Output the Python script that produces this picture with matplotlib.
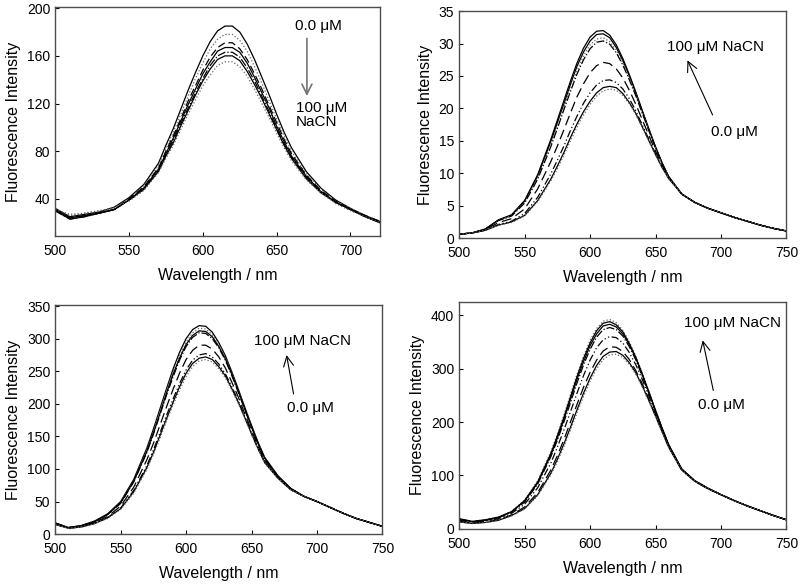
import matplotlib.pyplot as plt

plt.rcParams['font.family'] = ['Liberation Sans', 'DejaVu Sans']

# wavelength grids (nm), finer around the band maximum
wl_a = [500, 510, 520, 530, 540, 550, 560, 570, 575, 580, 585, 590, 595, 600,
        605, 610, 615, 620, 625, 630, 635, 640, 645, 650, 655, 660, 670, 680,
        690, 700, 710, 720]
wl_b = wl_a[:-3] + [700, 710, 720, 730, 740, 750]

# panel A (top left): intensity drops with NaCN (0.0 -> 100 uM)
a_curves = [
    [32, 25, 27, 29, 33, 41, 52, 70, 85, 99, 115, 131, 146, 160, 172, 181, 185, 185, 180, 170, 157, 142, 127, 111, 96, 83, 63, 49, 39, 32, 26, 21],
    [30, 26, 28, 30, 32, 40, 51, 68, 82, 96, 111, 126, 141, 154, 166, 174, 178, 178, 173, 164, 151, 137, 122, 107, 93, 80, 61, 48, 38, 32, 26, 21],
    [31, 24, 26, 28, 31, 40, 50, 66, 80, 93, 107, 122, 135, 148, 159, 167, 171, 171, 166, 157, 145, 132, 118, 104, 90, 78, 60, 47, 38, 31, 26, 21],
    [31, 24, 26, 28, 31, 39, 49, 65, 78, 91, 105, 119, 132, 145, 155, 164, 167, 167, 163, 154, 142, 129, 116, 101, 88, 76, 59, 46, 37, 31, 25, 20],
    [30, 23, 25, 28, 31, 39, 48, 64, 77, 89, 103, 116, 129, 141, 152, 160, 163, 163, 159, 150, 139, 126, 113, 99, 86, 75, 58, 46, 37, 31, 25, 20],
    [30, 23, 25, 28, 31, 39, 48, 63, 76, 87, 101, 114, 127, 139, 149, 157, 160, 160, 156, 147, 136, 124, 111, 98, 85, 74, 57, 45, 37, 31, 25, 20],
    [31, 27, 28, 30, 33, 38, 47, 62, 74, 85, 98, 111, 123, 135, 144, 152, 155, 155, 151, 143, 132, 120, 108, 95, 83, 72, 56, 45, 36, 30, 25, 20],
]
a_styles = ['-', ':', (0, (6, 3)), '-', '-.', '-', ':']

# panel B (top right): intensity rises with NaCN
b_head = [0.6, 0.8]
b_tail = [6.8, 5.5, 4.6, 3.9, 3.2, 2.6, 2.0, 1.5, 1.1]
b_mid = [
    [1.4, 2.8, 3.6, 5.8, 9.8, 15.2, 18.2, 21.2, 24.2, 27.0, 29.3, 31.0, 31.9, 32.0, 31.3, 29.8, 27.7, 25.2, 22.5, 19.6, 16.8, 14.1, 11.6, 9.5],
    [1.4, 2.8, 3.5, 5.7, 9.6, 14.9, 17.8, 20.7, 23.7, 26.5, 28.7, 30.4, 31.4, 31.5, 30.9, 29.4, 27.4, 25.0, 22.3, 19.5, 16.7, 14.0, 11.6, 9.5],
    [1.4, 2.7, 3.5, 5.5, 9.3, 14.4, 17.3, 20.2, 23.1, 25.8, 28.1, 29.8, 30.7, 30.9, 30.3, 29.0, 27.0, 24.7, 22.1, 19.3, 16.6, 13.9, 11.5, 9.5],
    [1.4, 2.7, 3.4, 5.4, 9.1, 14.1, 16.9, 19.8, 22.6, 25.3, 27.5, 29.2, 30.2, 30.4, 29.9, 28.6, 26.7, 24.4, 21.9, 19.2, 16.5, 13.9, 11.5, 9.4],
    [1.3, 2.4, 3.0, 4.5, 7.6, 11.8, 14.2, 16.7, 19.3, 21.8, 23.8, 25.5, 26.6, 27.1, 26.9, 26.1, 24.7, 22.8, 20.6, 18.2, 15.8, 13.4, 11.2, 9.3],
    [1.2, 2.1, 2.6, 3.8, 6.3, 9.9, 12.0, 14.2, 16.6, 18.8, 20.8, 22.4, 23.6, 24.3, 24.4, 24.0, 23.0, 21.5, 19.6, 17.4, 15.2, 13.0, 11.0, 9.3],
    [1.2, 2.0, 2.5, 3.5, 5.8, 9.1, 11.1, 13.2, 15.5, 17.6, 19.5, 21.1, 22.4, 23.2, 23.4, 23.2, 22.3, 20.9, 19.2, 17.1, 15.0, 12.9, 10.9, 9.2],
    [1.2, 2.0, 2.4, 3.4, 5.6, 8.8, 10.7, 12.8, 15.0, 17.1, 19.0, 20.6, 21.9, 22.7, 23.0, 22.8, 22.0, 20.7, 19.0, 17.0, 14.9, 12.8, 10.9, 9.2],
]
b_styles = ['-', '-', ':', '-.', (0, (8, 4)), (0, (6, 2, 1, 2, 1, 2)), '-', ':']

# panel C (bottom left)
c_tail = [50, 41, 32, 24, 18, 12]
c_main = [
    [17, 10, 13, 20, 31, 50, 84, 132, 161, 192, 223, 253, 279, 300, 314, 320, 319, 310, 294, 274, 249, 222, 194, 167, 141, 118, 90, 70, 58],
    [17, 10, 13, 20, 30, 49, 82, 129, 158, 188, 219, 249, 274, 295, 309, 316, 315, 306, 291, 271, 247, 220, 193, 166, 140, 117, 90, 70, 58],
    [17, 10, 13, 19, 30, 48, 81, 127, 155, 185, 216, 245, 270, 291, 305, 312, 311, 303, 288, 269, 245, 219, 191, 165, 139, 117, 89, 70, 58],
    [17, 10, 13, 19, 30, 47, 80, 125, 153, 183, 213, 241, 267, 288, 302, 309, 308, 300, 286, 267, 243, 217, 190, 164, 139, 116, 89, 70, 58],
    [16, 9, 12, 18, 27, 43, 72, 114, 139, 167, 195, 222, 247, 268, 282, 290, 290, 284, 272, 255, 233, 210, 184, 159, 135, 113, 88, 69, 58],
    [15, 9, 11, 17, 25, 40, 67, 105, 129, 155, 182, 207, 231, 252, 267, 275, 277, 272, 261, 246, 226, 204, 180, 155, 132, 111, 87, 68, 58],
    [15, 9, 11, 16, 25, 39, 65, 102, 125, 151, 177, 202, 226, 247, 262, 270, 272, 268, 257, 243, 223, 202, 178, 154, 131, 110, 86, 68, 58],
    [15, 9, 11, 16, 24, 38, 63, 99, 122, 147, 173, 198, 221, 242, 257, 266, 268, 264, 254, 240, 221, 200, 177, 153, 130, 109, 86, 68, 58],
]
c_styles = ['-', ':', '-', '-.', (0, (8, 4)), (0, (6, 2, 1, 2, 1, 2)), '-', ':']

# panel D (bottom right)
d_tail = [64, 53, 43, 34, 25, 17]
d_main = [
    [19, 14, 17, 22, 33, 54, 90, 144, 177, 213, 251, 289, 323, 353, 375, 389, 392, 386, 372, 350, 323, 291, 257, 223, 189, 158, 112, 90, 76],
    [19, 14, 17, 22, 32, 53, 88, 141, 174, 209, 247, 285, 319, 348, 371, 385, 388, 382, 369, 347, 321, 289, 256, 222, 189, 158, 112, 90, 76],
    [18, 13, 16, 21, 32, 52, 86, 138, 170, 205, 242, 280, 313, 343, 365, 380, 383, 378, 365, 345, 319, 288, 255, 221, 188, 157, 112, 90, 76],
    [18, 13, 16, 21, 31, 50, 84, 135, 166, 200, 236, 273, 307, 336, 359, 373, 377, 373, 361, 341, 316, 285, 253, 220, 187, 157, 112, 90, 76],
    [16, 12, 15, 19, 29, 46, 77, 123, 153, 185, 219, 254, 287, 316, 339, 354, 360, 358, 348, 330, 307, 279, 248, 217, 185, 156, 111, 90, 76],
    [14, 11, 13, 17, 26, 41, 68, 110, 137, 167, 200, 233, 265, 293, 316, 333, 341, 340, 332, 317, 296, 271, 242, 213, 183, 154, 110, 89, 75],
    [13, 10, 12, 16, 25, 38, 64, 104, 130, 159, 190, 223, 254, 282, 306, 323, 331, 332, 325, 311, 292, 267, 240, 211, 182, 153, 110, 89, 75],
    [13, 10, 12, 16, 24, 37, 62, 101, 126, 154, 185, 217, 248, 276, 300, 317, 326, 327, 321, 308, 289, 265, 238, 210, 181, 153, 110, 89, 75],
]
d_styles = [':', '-', '-', '-.', (0, (6, 2, 1, 2, 1, 2)), (0, (8, 4)), '-', ':']

b_curves = [b_head + m + b_tail for m in b_mid]
c_curves = [m + c_tail for m in c_main]
d_curves = [m + d_tail for m in d_main]

fig = plt.figure(figsize=(8, 5.85), dpi=100)
ax_a = fig.add_axes([0.069, 0.597, 0.406, 0.391])
ax_b = fig.add_axes([0.574, 0.593, 0.409, 0.388])
ax_c = fig.add_axes([0.069, 0.087, 0.409, 0.392])
ax_d = fig.add_axes([0.574, 0.096, 0.409, 0.388])

panels = [
    (ax_a, wl_a, a_curves, a_styles, (500, 720), (9, 201), [40, 80, 120, 160, 200]),
    (ax_b, wl_b, b_curves, b_styles, (500, 750), (0, 35), [0, 5, 10, 15, 20, 25, 30, 35]),
    (ax_c, wl_b, c_curves, c_styles, (500, 750), (0, 352), [0, 50, 100, 150, 200, 250, 300, 350]),
    (ax_d, wl_b, d_curves, d_styles, (500, 750), (0, 425), [0, 100, 200, 300, 400]),
]

for ax, wl, curves, styles, xl, yl, yt in panels:
    for vals, ls in zip(curves, styles):
        col = '0.4' if ls == ':' else 'black'
        ax.plot(wl, vals, color=col, linestyle=ls, linewidth=0.9)
    ax.set_xlim(xl)
    ax.set_ylim(yl)
    ax.set_yticks(yt)
    ax.set_xticks([500, 550, 600, 650, 700] + ([750] if xl[1] == 750 else []))
    ax.tick_params(direction='in', length=3, labelsize=10)
    ax.tick_params(axis='x', pad=6)
    for s in ax.spines.values():
        s.set_color('0.3')
        s.set_linewidth(1.0)
    ax.set_xlabel('Wavelength / nm', fontsize=11.5, labelpad=7)
    ax.set_ylabel('Fluorescence Intensity', fontsize=11.5)

# annotations
ax_a.text(678, 185, '0.0 \u03bcM', fontsize=11, ha='center', va='center')
ax_a.annotate('', xy=(670.5, 124), xytext=(670.5, 177),
              arrowprops=dict(arrowstyle='->', color='0.45', lw=1.2, mutation_scale=18))
ax_a.text(663, 110, '100 \u03bcM\nNaCN', fontsize=11, ha='left', va='center',
          linespacing=1.0)

ax_b.text(696, 29.5, '100 \u03bcM NaCN', fontsize=11, ha='center', va='center')
ax_b.annotate('', xy=(673.5, 27.8), xytext=(694.5, 18.6),
              arrowprops=dict(arrowstyle='->', color='black', lw=0.8, mutation_scale=18))
ax_b.text(710, 16.3, '0.0 \u03bcM', fontsize=11, ha='center', va='center')

ax_c.text(689, 297, '100 \u03bcM NaCN', fontsize=11, ha='center', va='center')
ax_c.annotate('', xy=(676.4, 279), xytext=(682.5, 211),
              arrowprops=dict(arrowstyle='->', color='black', lw=0.8, mutation_scale=18))
ax_c.text(695, 193, '0.0 \u03bcM', fontsize=11, ha='center', va='center')

ax_d.text(709, 386, '100 \u03bcM NaCN', fontsize=11, ha='center', va='center')
ax_d.annotate('', xy=(685.6, 358), xytext=(694.6, 254),
              arrowprops=dict(arrowstyle='->', color='black', lw=0.8, mutation_scale=18))
ax_d.text(700, 232, '0.0 \u03bcM', fontsize=11, ha='center', va='center')

fig.savefig('out.png', dpi=100)
